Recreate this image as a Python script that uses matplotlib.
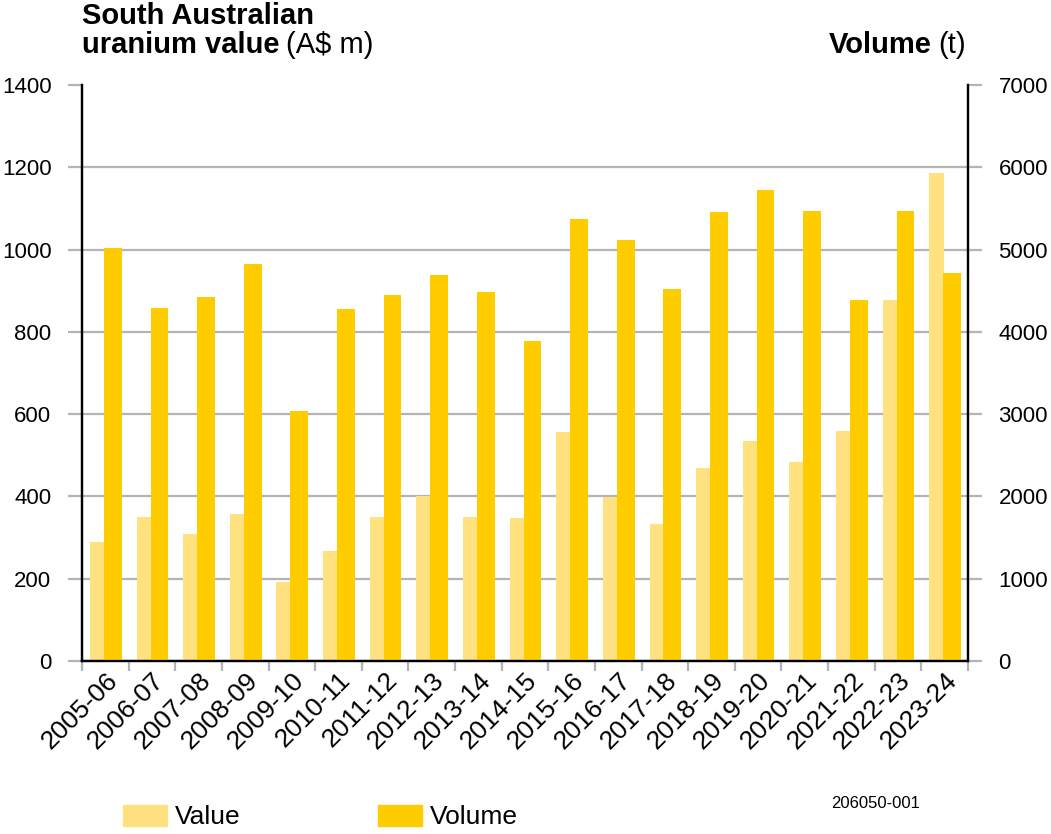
import numpy as np
import matplotlib
matplotlib.use("Agg")
import matplotlib.pyplot as plt
import matplotlib.transforms as mtransforms
from matplotlib import font_manager
from matplotlib.patches import Patch

years = ["2005-06", "2006-07", "2007-08", "2008-09", "2009-10", "2010-11", "2011-12",
         "2012-13", "2013-14", "2014-15", "2015-16", "2016-17", "2017-18", "2018-19",
         "2019-20", "2020-21", "2021-22", "2022-23", "2023-24"]
value = [289, 350, 309, 357, 192, 267, 350, 401, 350, 347, 557, 399, 333, 469,
         535, 484, 559, 878, 1185]
volume = [5025, 4290, 4423, 4824, 3040, 4278, 4444, 4690, 4484, 3893, 5371, 5116,
          4520, 5456, 5720, 5472, 4383, 5468, 4711]

VALUE_COL = "#FFE17F"
VOLUME_COL = "#FFCC00"
GRID_COL = "#B4B4B4"

# narrow face for the tick labels if installed, else plain Liberation Sans
narrow = [f.fname for f in font_manager.fontManager.ttflist
          if "LiberationSansNarrow-Regular" in f.fname]
if narrow:
    def tfont(size):
        return font_manager.FontProperties(fname=narrow[0], size=size * 1.2)
else:
    def tfont(size):
        return font_manager.FontProperties(family="Liberation Sans", size=size)

plt.rcParams['font.family'] = ['Liberation Sans', 'DejaVu Sans']

fig = plt.figure(figsize=(10.51, 8.34), dpi=100)
ax = fig.add_axes([82/1051, 1 - 661/834, (968 - 82)/1051, (661 - 85)/834])
ax2 = ax.twinx()

x = np.arange(len(years))
ax.bar(x - 0.33, value, width=0.31, align='edge', color=VALUE_COL, zorder=2)
ax2.bar(x - 0.03, volume, width=0.38, align='edge', color=VOLUME_COL, zorder=2)

ax.set_xlim(-0.5, len(years) - 0.5)
ax.set_ylim(0, 1400)
ax2.set_ylim(0, 7000)
ax.set_yticks(np.arange(0, 1401, 200))
ax2.set_yticks(np.arange(0, 7001, 1000))
ax.yaxis.grid(True, color=GRID_COL, linewidth=1.6, zorder=0)
ax.set_axisbelow(True)
ax.get_ygridlines()[-1].set_visible(False)

# category boundary ticks, labels at centres
ax.set_xticks(np.arange(-0.5, len(years), 1))
ax.set_xticklabels([])
ax.set_xticks(x, minor=True)
ax.set_xticklabels(years, minor=True, rotation=45, ha='right', va='top',
                   rotation_mode='anchor', fontproperties=tfont(19))
shift = mtransforms.ScaledTranslation(9/100, 0, fig.dpi_scale_trans)
for lab in ax.get_xticklabels(minor=True):
    lab.set_transform(lab.get_transform() + shift)
ax.tick_params(axis='x', which='major', length=7, width=1.6, color=GRID_COL)
ax.tick_params(axis='x', which='minor', length=0, pad=5)

for a in (ax, ax2):
    a.tick_params(axis='y', length=10, width=1.6, color=GRID_COL, pad=12)
    for s in a.spines.values():
        s.set_linewidth(1.6)
    a.spines['top'].set_visible(False)
for lab in ax.get_yticklabels() + ax2.get_yticklabels():
    lab.set_fontproperties(tfont(16))

# titles
fig.text(82/1051, 1 - 16/834, "South Australian", fontsize=21, fontweight='bold', va='center')
t1 = fig.text(82/1051, 1 - 45/834, "uranium value", fontsize=21, fontweight='bold', va='center')
fig.canvas.draw()
bb = t1.get_window_extent()
fig.text((bb.x1 + 7) / 1051, 1 - 45/834, "(A$ m)", fontsize=21, va='center')
t2 = fig.text(966/1051, 1 - 45/834, "(t)", fontsize=21, va='center', ha='right')
fig.canvas.draw()
bb2 = t2.get_window_extent()
fig.text((bb2.x0 - 7) / 1051, 1 - 45/834, "Volume", fontsize=21, fontweight='bold',
         va='center', ha='right')

handles = [Patch(color=VALUE_COL, label="Value"), Patch(color=VOLUME_COL, label="Volume")]
fig.legend(handles=handles, loc='center left', bbox_to_anchor=(123/1051, 1 - 817/834),
           ncol=2, frameon=False, prop=tfont(19), borderpad=0, borderaxespad=0,
           handlelength=1.67, handleheight=0.87, handletextpad=0.3, columnspacing=5.2)
fig.text(920/1051, 1 - 803/834, "206050-001", ha='right', va='center', fontproperties=tfont(12))

fig.savefig("out.png", dpi=100)
